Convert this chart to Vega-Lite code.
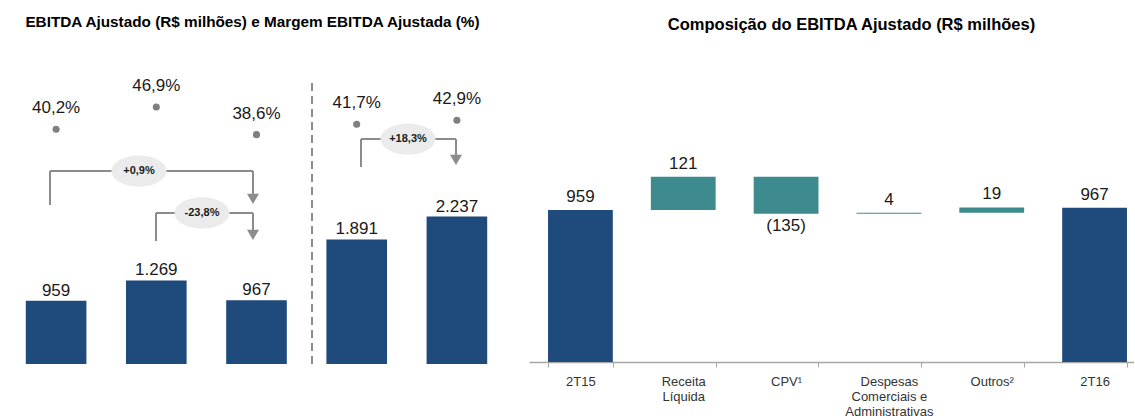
{
  "$schema": "https://vega.github.io/schema/vega-lite/v6.json",
  "background": "white",
  "padding": {"left": 6, "top": 14, "right": -12, "bottom": 0},
  "config": {
    "view": {"stroke": null},
    "font": "Liberation Sans",
    "concat": {"spacing": 22},
    "locale": {"number": {"decimal": ",", "thousands": ".", "grouping": [3], "currency": ["R$", ""]}},
    "axis": {
      "title": null, "labelAngle": 0, "tickBand": "extent", "grid": false,
      "domainColor": "#a6a6a6", "tickColor": "#a6a6a6", "domainWidth": 1.5, "tickWidth": 1, "tickSize": 5,
      "labelFont": "Liberation Sans", "labelFontSize": 13, "labelColor": "#333333", "labelPadding": 8, "labelBaseline": "top"
    }
  },
  "hconcat": [
    {
      "width": 501,
      "height": 303,
      "title": {"text": "EBITDA Ajustado (R$ milhões) e Margem EBITDA Ajustada (%)", "font": "Liberation Sans", "fontSize": 15.3, "fontWeight": "bold", "color": "#000000", "anchor": "middle", "baseline": "alphabetic", "offset": 19, "dx": -4},
      "resolve": {"scale": {"x": "independent", "y": "independent"}},
      "layer": [
        {
          "data": {"name": "periodos", "values": [
            {"periodo": "2T15", "ebitda": 959, "margem": 0.402},
            {"periodo": "1T16", "ebitda": 1269, "margem": 0.469},
            {"periodo": "2T16", "ebitda": 967, "margem": 0.386},
            {"periodo": "6M15", "ebitda": 1891, "margem": 0.417},
            {"periodo": "6M16", "ebitda": 2237, "margem": 0.429}
          ]},
          "resolve": {"scale": {"y": "independent"}},
          "layer": [
            {
              "mark": {"type": "bar", "color": "#1f4a7c"},
              "encoding": {
                "x": {"field": "periodo", "type": "nominal", "sort": null, "scale": {"type": "band", "paddingInner": 0.395, "paddingOuter": 0.1975}},
                "y": {"field": "ebitda", "type": "quantitative", "scale": {"domain": [0, 4598], "nice": false}, "axis": null}
              }
            },
            {
              "mark": {"type": "text", "fontSize": 17, "color": "#1a1a1a", "baseline": "alphabetic", "dy": -5},
              "encoding": {
                "x": {"field": "periodo", "type": "nominal", "sort": null, "axis": null},
                "y": {"field": "ebitda", "type": "quantitative", "scale": {"domain": [0, 4598], "nice": false}, "axis": null},
                "text": {"field": "ebitda", "type": "quantitative", "format": ",.0f"}
              }
            },
            {
              "mark": {"type": "point", "shape": "circle", "filled": true, "size": 50, "color": "#7f7f7f", "opacity": 1},
              "encoding": {
                "x": {"field": "periodo", "type": "nominal", "sort": null, "axis": null},
                "y": {"field": "margem", "type": "quantitative", "scale": {"domain": [-0.3028, 0.6071], "nice": false, "zero": false}, "axis": null}
              }
            },
            {
              "mark": {"type": "text", "fontSize": 17, "color": "#1a1a1a", "baseline": "alphabetic", "dy": -16},
              "encoding": {
                "x": {"field": "periodo", "type": "nominal", "sort": null, "axis": null},
                "y": {"field": "margem", "type": "quantitative", "scale": {"domain": [-0.3028, 0.6071], "nice": false, "zero": false}, "axis": null},
                "text": {"field": "margem", "type": "quantitative", "format": ".1%"}
              }
            }
          ]
        },
        {
          "data": {"values": [
            {"x1": 0.439, "y1": 2412, "x2": 0.439, "y2": 2928},
            {"x1": 0.439, "y1": 2928, "x2": 2.465, "y2": 2928},
            {"x1": 2.465, "y1": 2928, "x2": 2.465, "y2": 2506},
            {"x1": 1.497, "y1": 1866, "x2": 1.497, "y2": 2291},
            {"x1": 1.497, "y1": 2291, "x2": 2.465, "y2": 2291},
            {"x1": 2.465, "y1": 2291, "x2": 2.465, "y2": 1960},
            {"x1": 3.543, "y1": 2989, "x2": 3.543, "y2": 3413},
            {"x1": 3.543, "y1": 3413, "x2": 4.491, "y2": 3413},
            {"x1": 4.491, "y1": 3413, "x2": 4.491, "y2": 3098}
          ]},
          "mark": {"type": "rule", "color": "#8c8c8c", "strokeWidth": 2},
          "encoding": {
            "x": {"field": "x1", "type": "quantitative", "scale": {"domain": [0, 5], "nice": false}, "axis": null},
            "x2": {"field": "x2"},
            "y": {"field": "y1", "type": "quantitative", "scale": {"domain": [0, 4598], "nice": false}, "axis": null},
            "y2": {"field": "y2"}
          }
        },
        {
          "data": {"values": [{"x": 3.054, "y1": 4263, "y2": -76}]},
          "mark": {"type": "rule", "color": "#8c8c8c", "strokeWidth": 2, "strokeDash": [8, 5]},
          "encoding": {
            "x": {"field": "x", "type": "quantitative", "scale": {"domain": [0, 5], "nice": false}, "axis": null},
            "y": {"field": "y1", "type": "quantitative", "scale": {"domain": [0, 4598], "nice": false}, "axis": null},
            "y2": {"field": "y2"}
          }
        },
        {
          "data": {"values": [{"x": 2.465, "y": 2506}, {"x": 2.465, "y": 1960}, {"x": 4.491, "y": 3098}]},
          "mark": {"type": "point", "shape": "triangle-down", "filled": true, "size": 144, "color": "#8c8c8c", "opacity": 1},
          "encoding": {
            "x": {"field": "x", "type": "quantitative", "scale": {"domain": [0, 5], "nice": false}, "axis": null},
            "y": {"field": "y", "type": "quantitative", "scale": {"domain": [0, 4598], "nice": false}, "axis": null}
          }
        },
        {
          "data": {"values": [
            {"x": 1.327, "y": 2928, "rotulo": "+0,9%"},
            {"x": 1.956, "y": 2291, "rotulo": "-23,8%"},
            {"x": 4.012, "y": 3413, "rotulo": "+18,3%"}
          ]},
          "layer": [
            {
              "mark": {"type": "point", "shape": "M-1,0A1,0.57,0,1,1,1,0A1,0.57,0,1,1,-1,0Z", "filled": true, "size": 3025, "color": "#ebebeb", "opacity": 1},
              "encoding": {
                "x": {"field": "x", "type": "quantitative", "scale": {"domain": [0, 5], "nice": false}, "axis": null},
                "y": {"field": "y", "type": "quantitative", "scale": {"domain": [0, 4598], "nice": false}, "axis": null}
              }
            },
            {
              "mark": {"type": "text", "fontSize": 11, "fontWeight": "bold", "color": "#1a1a1a", "baseline": "middle"},
              "encoding": {
                "x": {"field": "x", "type": "quantitative", "scale": {"domain": [0, 5], "nice": false}, "axis": null},
                "y": {"field": "y", "type": "quantitative", "scale": {"domain": [0, 4598], "nice": false}, "axis": null},
                "text": {"field": "rotulo"}
              }
            }
          ]
        }
      ]
    },
    {
      "width": 617,
      "height": 301,
      "title": {"text": "Composição do EBITDA Ajustado (R$ milhões)", "font": "Liberation Sans", "fontSize": 16.5, "fontWeight": "bold", "color": "#000000", "anchor": "middle", "baseline": "alphabetic", "offset": 19, "dx": 14, "dy": 4},
      "data": {"values": [
        {"item": "2T15", "tipo": "total", "valor": 959, "inicio": 0, "fim": 959},
        {"item": "Receita Líquida", "tipo": "variacao", "valor": 121, "inicio": 959, "fim": 1080},
        {"item": "CPV¹", "tipo": "variacao", "valor": -135, "inicio": 1080, "fim": 945},
        {"item": "Despesas Comerciais e Administrativas", "tipo": "variacao", "valor": 4, "inicio": 945, "fim": 949},
        {"item": "Outros²", "tipo": "variacao", "valor": 19, "inicio": 949, "fim": 968},
        {"item": "2T16", "tipo": "total", "valor": 967, "inicio": 0, "fim": 967}
      ]},
      "layer": [
        {
          "mark": {"type": "bar"},
          "encoding": {
            "x": {"field": "item", "type": "nominal", "sort": null, "scale": {"type": "band", "paddingInner": 0.37, "paddingOuter": 0.185},
              "axis": {"labelExpr": "datum.label == 'Receita Líquida' ? ['Receita', 'Líquida'] : datum.label == 'Despesas Comerciais e Administrativas' ? ['Despesas', 'Comerciais e', 'Administrativas'] : datum.label", "labelLineHeight": 15}},
            "y": {"field": "fim", "type": "quantitative", "scale": {"domain": [406, 1500.5], "nice": false, "zero": false, "clamp": true}, "axis": null},
            "y2": {"field": "inicio"},
            "color": {"field": "tipo", "type": "nominal", "scale": {"domain": ["total", "variacao"], "range": ["#1f4a7c", "#3d8b8f"]}, "legend": null}
          }
        },
        {
          "transform": [{"filter": "datum.fim >= datum.inicio"}],
          "mark": {"type": "text", "fontSize": 17, "color": "#1a1a1a", "baseline": "alphabetic", "dy": -8},
          "encoding": {
            "x": {"field": "item", "type": "nominal", "sort": null},
            "y": {"field": "fim", "type": "quantitative"},
            "text": {"field": "valor", "type": "quantitative", "format": "(,.0f"}
          }
        },
        {
          "transform": [{"filter": "datum.fim < datum.inicio"}],
          "mark": {"type": "text", "fontSize": 17, "color": "#1a1a1a", "baseline": "top", "dy": 4},
          "encoding": {
            "x": {"field": "item", "type": "nominal", "sort": null},
            "y": {"field": "fim", "type": "quantitative"},
            "text": {"field": "valor", "type": "quantitative", "format": "(,.0f"}
          }
        }
      ]
    }
  ]
}
